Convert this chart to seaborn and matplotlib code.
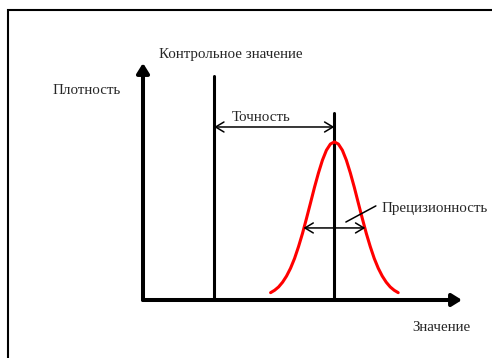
import matplotlib
matplotlib.use("Agg")
import matplotlib.pyplot as plt
import seaborn as sns
from matplotlib.patches import Rectangle

# valores del esquema (unidades arbitrarias del diagrama)
ref_value = 2.23
mean_value = 6.0
mean_line_top = 0.79
ref_line_top = 0.945
accuracy_y = 0.73
precision_y = 0.304
precision_lo = 5.03
precision_hi = 6.97

# curva normal
curve_x = [4.0, 4.125, 4.25, 4.375, 4.5, 4.625, 4.75, 4.875, 5.0,
           5.125, 5.25, 5.375, 5.5, 5.625, 5.75, 5.875, 6.0,
           6.125, 6.25, 6.375, 6.5, 6.625, 6.75, 6.875, 7.0,
           7.125, 7.25, 7.375, 7.5, 7.625, 7.75, 7.875, 8.0]
curve_y = [0.031, 0.041, 0.055, 0.075, 0.101, 0.134, 0.175, 0.225, 0.281,
           0.344, 0.409, 0.475, 0.536, 0.590, 0.632, 0.658, 0.667,
           0.658, 0.632, 0.590, 0.536, 0.475, 0.409, 0.344, 0.281,
           0.225, 0.175, 0.134, 0.101, 0.075, 0.055, 0.041, 0.031]

labels = {
    "ref": "Контрольное значение",
    "dens": "Плотность",
    "acc": "Точность",
    "prec": "Прецизионность",
    "val": "Значение",
}

sns.set_style("white")
plt.rcParams["font.family"] = ["Liberation Serif", "DejaVu Serif"]

W, H = 492, 358
fig = plt.figure(figsize=(W / 100, H / 100), dpi=100)
ax = fig.add_axes([143 / W, (H - 300) / H, (462 - 143) / W, (300 - 63) / H])
ax.set_xlim(0, 10)
ax.set_ylim(0, 1)
ax.axis("off")

# marco
fig.patches.append(Rectangle((8 / W, -0.05), 1.1, 1 - 10 / H + 0.05,
                             transform=fig.transFigure, fill=False,
                             edgecolor="black", linewidth=1.5))

# ejes con flecha
arrow_kw = dict(arrowstyle="-|>,head_length=0.45,head_width=0.28", color="black",
                lw=2.9, mutation_scale=13, shrinkA=0, shrinkB=0)
ax.annotate("", xy=(10, 0), xytext=(0, 0), arrowprops=arrow_kw, annotation_clip=False)
ax.annotate("", xy=(0, 1), xytext=(0, 0), arrowprops=arrow_kw, annotation_clip=False)

# lineas verticales
line_kw = dict(ax=ax, color="black", lw=2.2, estimator=None, sort=False)
sns.lineplot(x=[ref_value, ref_value], y=[0, ref_line_top], **line_kw)
sns.lineplot(x=[mean_value, mean_value], y=[0, mean_line_top], **line_kw)

# curva
sns.lineplot(x=curve_x, y=curve_y, ax=ax, color="#ff0000", lw=2.2,
             estimator=None, sort=False)

# flechas de exactitud y precision
dbl = dict(arrowstyle="<->,head_length=0.5,head_width=0.3", color="black",
           lw=1.1, mutation_scale=12, shrinkA=0, shrinkB=0)
ax.annotate("", xy=(mean_value, accuracy_y), xytext=(ref_value, accuracy_y), arrowprops=dbl)
ax.annotate("", xy=(precision_hi, precision_y), xytext=(precision_lo, precision_y), arrowprops=dbl)
ax.plot([6.36, 7.30], [0.329, 0.397], color="black", lw=1.1)

fs = 10.8
ax.text(0.50, 1.034, labels["ref"], fontsize=fs, ha="left", va="center")
ax.text(-2.85, 0.886, labels["dens"], fontsize=fs, ha="left", va="center")
ax.text(2.79, 0.772, labels["acc"], fontsize=fs, ha="left", va="center")
ax.text(7.49, 0.384, labels["prec"], fontsize=fs, ha="left", va="center")
ax.text(8.43, -0.118, labels["val"], fontsize=fs, ha="left", va="center")

fig.savefig("out.png", dpi=100)
